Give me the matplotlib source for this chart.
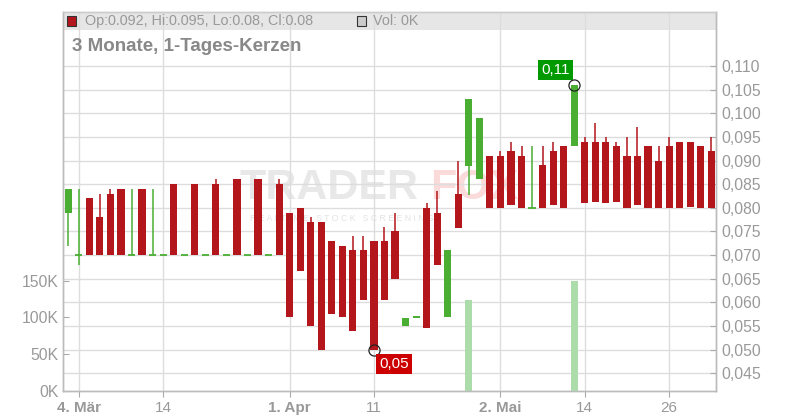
import numpy as np
import matplotlib
matplotlib.use("Agg")
import matplotlib.pyplot as plt
from matplotlib.patches import Rectangle

plt.rcParams['font.family'] = ['Liberation Sans', 'DejaVu Sans']

# daily candles, 1 Mar .. end of May
opens = [0.079, 0.070, 0.082, 0.078, 0.083, 0.084, 0.070, 0.084, 0.070, 0.070,
         0.085, 0.070, 0.085, 0.070, 0.085, 0.070, 0.086, 0.070, 0.086, 0.070,
         0.085, 0.079, 0.080, 0.077, 0.077, 0.073, 0.072, 0.071, 0.071, 0.073,
         0.073, 0.075, 0.055, 0.0568, 0.080, 0.079, 0.057, 0.083, 0.0888, 0.086,
         0.091, 0.091, 0.092, 0.091, 0.080, 0.089, 0.092, 0.093, 0.093, 0.094,
         0.094, 0.094, 0.093, 0.091, 0.091, 0.093, 0.090, 0.093, 0.094, 0.094,
         0.093, 0.092]
highs = [0.084, 0.084, 0.082, 0.083, 0.084, 0.084, 0.084, 0.084, 0.084, 0.070,
         0.085, 0.070, 0.085, 0.070, 0.086, 0.070, 0.086, 0.070, 0.086, 0.070,
         0.086, 0.079, 0.080, 0.078, 0.077, 0.073, 0.072, 0.074, 0.074, 0.073,
         0.076, 0.079, 0.0567, 0.0572, 0.081, 0.0835, 0.071, 0.090, 0.103, 0.099,
         0.091, 0.092, 0.094, 0.093, 0.093, 0.093, 0.094, 0.093, 0.106, 0.095,
         0.098, 0.095, 0.094, 0.095, 0.097, 0.093, 0.093, 0.095, 0.094, 0.094,
         0.093, 0.095]
lows = [0.072, 0.068, 0.070, 0.070, 0.070, 0.070, 0.070, 0.070, 0.070, 0.070,
        0.070, 0.070, 0.070, 0.070, 0.070, 0.070, 0.070, 0.070, 0.070, 0.070,
        0.070, 0.057, 0.0667, 0.055, 0.050, 0.0575, 0.057, 0.054, 0.0605, 0.050,
        0.0606, 0.065, 0.055, 0.0568, 0.0545, 0.068, 0.057, 0.0757, 0.0827, 0.086,
        0.080, 0.080, 0.0806, 0.080, 0.080, 0.080, 0.0806, 0.080, 0.093, 0.081,
        0.0813, 0.0811, 0.0813, 0.080, 0.0805, 0.080, 0.080, 0.080, 0.080, 0.0802,
        0.080, 0.080]
closes = [0.084, 0.070, 0.070, 0.070, 0.070, 0.070, 0.070, 0.070, 0.070, 0.070,
          0.070, 0.070, 0.070, 0.070, 0.070, 0.070, 0.070, 0.070, 0.070, 0.070,
          0.070, 0.057, 0.0667, 0.055, 0.050, 0.0575, 0.057, 0.054, 0.0605, 0.050,
          0.0606, 0.065, 0.0567, 0.0572, 0.0545, 0.068, 0.071, 0.0757, 0.103, 0.099,
          0.080, 0.080, 0.0806, 0.080, 0.080, 0.080, 0.0806, 0.080, 0.106, 0.081,
          0.0813, 0.0811, 0.0813, 0.080, 0.0805, 0.080, 0.080, 0.080, 0.080, 0.0802,
          0.080, 0.080]
volumes = [0] * 62
volumes[38] = 124000
volumes[48] = 150000

date_ticks = [1, 9, 21, 29, 41, 49, 57]
date_labels = ['4. Mär', '14', '1. Apr', '11', '2. Mai', '14', '26']
month_start = [True, False, True, False, True, False, False]

price_ticks = np.arange(0.045, 0.1101, 0.005)
vol_ticks = [0, 50000, 100000, 150000]

RED = '#b3161b'
GREEN = '#4aae33'
VOLC = '#addcab'
GRID = '#dddddd'
TXT = '#999999'

fig = plt.figure(figsize=(8, 4.2), dpi=100)
ax = fig.add_axes([63 / 800, 1 - 391 / 420, 653 / 800, 379 / 420])
axv = ax.twinx()

x = np.arange(len(opens))
ax.set_xlim(-0.5, 61.45)
ax.set_ylim(0.04126, 0.12142)
axv.set_ylim(0, 515000)

# header band and watermark
ax.add_patch(Rectangle((0, 0.9525), 1, 0.0475, transform=ax.transAxes,
                       facecolor='#e6e6e6', edgecolor='none', zorder=0.3))
ax.text(0.271, 0.535, 'TRADER', transform=ax.transAxes, fontsize=31,
        fontweight='bold', color='#e8e8e8', ha='left', va='center', zorder=0.4)
ax.text(0.562, 0.535, 'FOX', transform=ax.transAxes, fontsize=31,
        fontweight='bold', color='#fbdada', ha='left', va='center', zorder=0.4)
ax.text(0.286, 0.455, 'R E A L T I M E   S T O C K   S C R E E N I N G',
        transform=ax.transAxes, fontsize=6.3, color='#e3e3e3',
        ha='left', va='center', zorder=0.4)

ax.set_axisbelow(True)
ax.grid(True, color=GRID, lw=1)

# candles
for i in x:
    o, h, l, c = opens[i], highs[i], lows[i], closes[i]
    col = GREEN if c >= o else RED
    ax.vlines(i, l, h, color=col, lw=1.1, zorder=2)
    if abs(c - o) < 1e-9:
        ax.hlines(o, i - 0.34, i + 0.34, color=col, lw=1.3, zorder=2)
    else:
        ax.bar(i, abs(c - o), bottom=min(o, c), width=0.68, color=col,
               lw=0, zorder=2)

# volume
axv.bar(x, volumes, width=0.68, color=VOLC, lw=0, zorder=1)

# high / low markers
i_hi = int(np.argmax(highs))
i_lo = 29
ax.plot(i_hi, highs[i_hi], 'o', ms=8, mfc='none', mec='#222222', mew=0.9, zorder=4)
ax.annotate(f'{highs[i_hi]:.2f}'.replace('.', ','), (i_hi, highs[i_hi]),
            xytext=(-19, 15), textcoords='offset pixels', ha='center',
            va='center', color='white', fontsize=11, zorder=5,
            bbox=dict(boxstyle='square,pad=0.2', fc='#009900', ec='none'))
ax.plot(i_lo, lows[i_lo], 'o', ms=8, mfc='none', mec='#222222', mew=0.9, zorder=4)
ax.annotate(f'{lows[i_lo]:.2f}'.replace('.', ','), (i_lo, lows[i_lo]),
            xytext=(20, -14), textcoords='offset pixels', ha='center',
            va='center', color='white', fontsize=11, zorder=5,
            bbox=dict(boxstyle='square,pad=0.2', fc='#cc0000', ec='none'))

# axes styling
ax.set_yticks(price_ticks)
ax.set_yticklabels([f'{v:.3f}'.replace('.', ',') for v in price_ticks])
ax.yaxis.tick_right()
ax.tick_params(axis='y', direction='in', length=4, pad=4, colors='#aaaaaa',
               labelcolor=TXT, labelsize=11.3)
ax.set_xticks(date_ticks)
ax.set_xticklabels(date_labels)
for lab, bold in zip(ax.get_xticklabels(), month_start):
    lab.set_fontweight('bold' if bold else 'normal')
ax.tick_params(axis='x', direction='out', length=4, pad=3, colors='#aaaaaa',
               labelcolor=TXT, labelsize=11)

axv.yaxis.tick_left()
axv.set_yticks(vol_ticks)
axv.set_yticklabels([f'{v // 1000}K' for v in vol_ticks])
axv.tick_params(axis='y', direction='in', length=4, pad=3, colors='#aaaaaa',
                labelcolor=TXT, labelsize=11.3)

for a in (ax, axv):
    for s in a.spines.values():
        s.set_color('#bbbbbb')
        s.set_linewidth(1)
    a.spines['top'].set_color('#cccccc')

# header texts
ax.add_patch(Rectangle((0.0061, 0.963), 0.0138, 0.0264, transform=ax.transAxes,
                       facecolor=RED, edgecolor='#333333', lw=0.8, zorder=3,
                       clip_on=False))
ax.text(0.033, 0.976,
        f'Op:{opens[-1]:g}, Hi:{highs[-1]:g}, Lo:{lows[-1]:g}, Cl:{closes[-1]:g}',
        transform=ax.transAxes, fontsize=10.4, color=TXT, ha='left', va='center',
        zorder=3)
ax.add_patch(Rectangle((0.450, 0.963), 0.0138, 0.0264, transform=ax.transAxes,
                       facecolor='#cccccc', edgecolor='#333333', lw=0.8, zorder=3,
                       clip_on=False))
ax.text(0.474, 0.976, f'Vol: {volumes[-1] // 1000}K', transform=ax.transAxes,
        fontsize=10.4, color=TXT, ha='left', va='center', zorder=3)
ax.text(0.0138, 0.9077, '3 Monate, 1-Tages-Kerzen', transform=ax.transAxes,
        fontsize=13.5, fontweight='bold', color='#888888', ha='left',
        va='center', zorder=3)

fig.savefig('out.png', dpi=100)
